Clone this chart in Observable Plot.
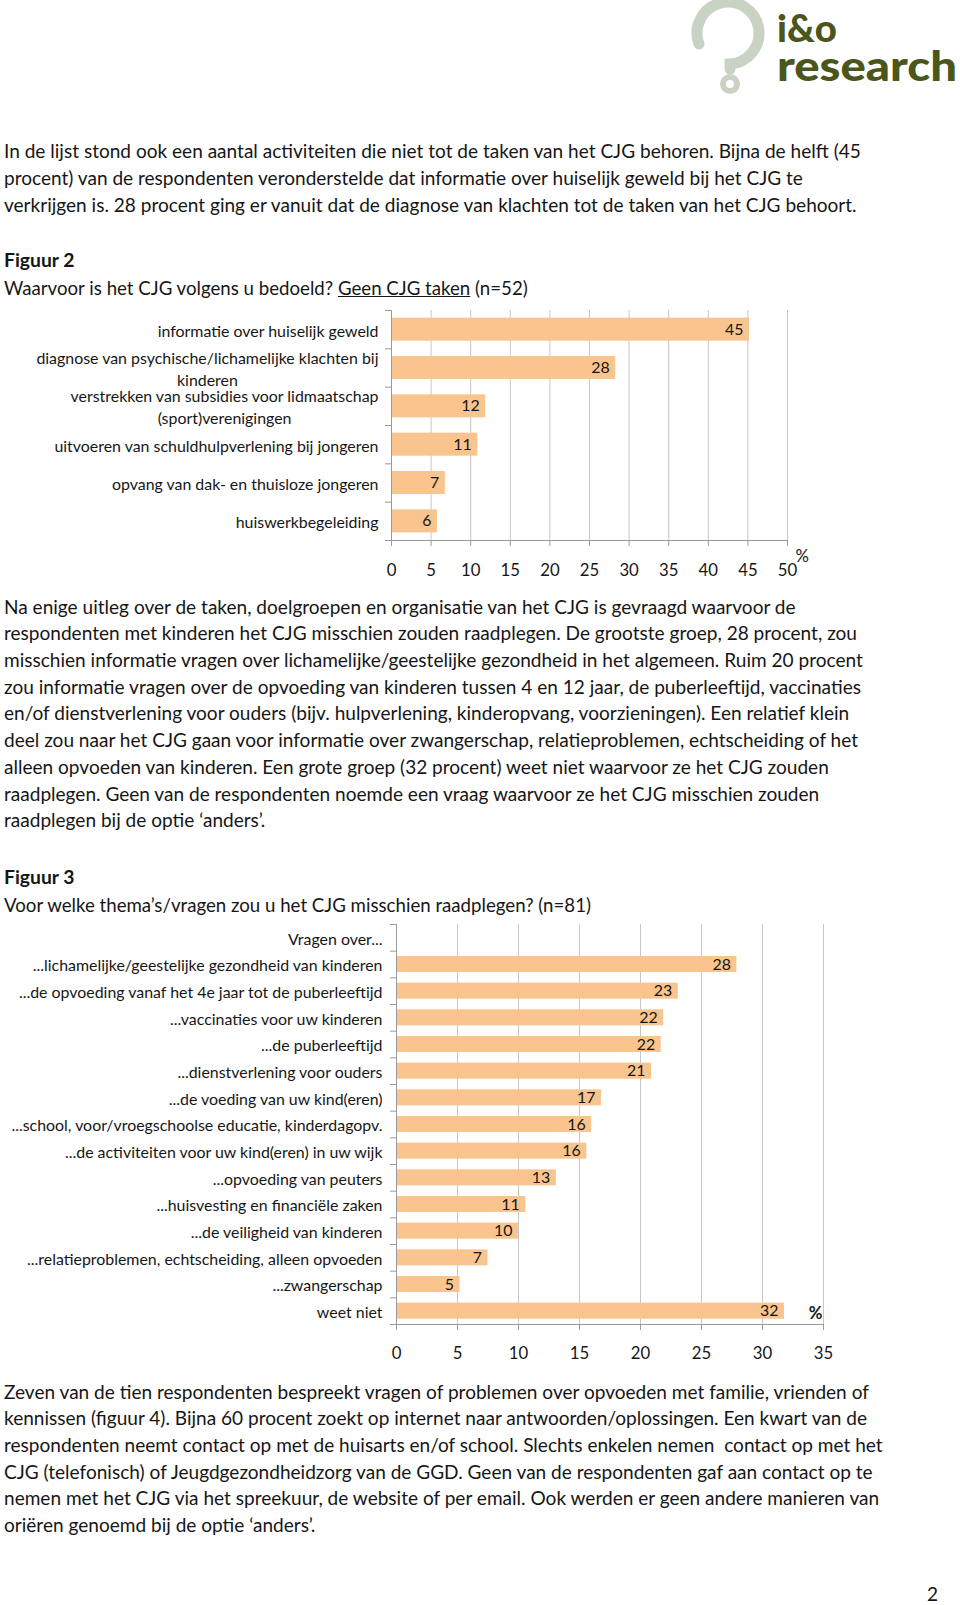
<!DOCTYPE html>
<html><head><meta charset="utf-8">
<script src="https://cdn.jsdelivr.net/npm/d3@7"></script>
<script src="https://cdn.jsdelivr.net/npm/@observablehq/plot@0.6"></script>
<style>
html,body{margin:0;padding:0;background:#fff;}
#page{position:relative;width:960px;height:1605px;overflow:hidden;background:#fff;color:#161616;}
.para{position:absolute;left:4px;white-space:pre;line-height:26.7px;margin:0;}
.abs{position:absolute;white-space:nowrap;line-height:30px;margin:0;}
.chart{position:absolute;left:0;}
</style></head><body><div id="page"></div>
<script>
// ---------- data ----------
const cats1 = [
  "informatie over huiselijk geweld",
  "diagnose van psychische/lichamelijke klachten bij\nkinderen",
  "verstrekken van subsidies voor lidmaatschap\n(sport)verenigingen",
  "uitvoeren van schuldhulpverlening bij jongeren",
  "opvang van dak- en thuisloze jongeren",
  "huiswerkbegeleiding"
];
const values1 = [45.2, 28.3, 11.9, 10.9, 6.8, 5.8];
const labels1 = ["45", "28", "12", "11", "7", "6"];
const ticks1 = [0, 5, 10, 15, 20, 25, 30, 35, 40, 45, 50];

const cats2 = [
  "Vragen over...",
  "...lichamelijke/geestelijke gezondheid van kinderen",
  "...de opvoeding vanaf het 4e jaar tot de puberleeftijd",
  "...vaccinaties voor uw kinderen",
  "...de puberleeftijd",
  "...dienstverlening voor ouders",
  "...de voeding van uw kind(eren)",
  "...school, voor/vroegschoolse educatie, kinderdagopv.",
  "...de activiteiten voor uw kind(eren) in uw wijk",
  "...opvoeding van peuters",
  "...huisvesting en financiële zaken",
  "...de veiligheid van kinderen",
  "...relatieproblemen, echtscheiding, alleen opvoeden",
  "...zwangerschap",
  "weet niet"
];
const values2 = [null, 27.9, 23.1, 21.9, 21.7, 20.9, 16.8, 16.0, 15.6, 13.1, 10.6, 10.0, 7.5, 5.2, 31.8];
const labels2 = ["", "28", "23", "22", "22", "21", "17", "16", "16", "13", "11", "10", "7", "5", "32"];
const ticks2 = [0, 5, 10, 15, 20, 25, 30, 35];

const para1 = [
  "In de lijst stond ook een aantal activiteiten die niet tot de taken van het CJG behoren. Bijna de helft (45",
  "procent) van de respondenten veronderstelde dat informatie over huiselijk geweld bij het CJG te",
  "verkrijgen is. 28 procent ging er vanuit dat de diagnose van klachten tot de taken van het CJG behoort."
];
const para2 = [
  "Na enige uitleg over de taken, doelgroepen en organisatie van het CJG is gevraagd waarvoor de",
  "respondenten met kinderen het CJG misschien zouden raadplegen. De grootste groep, 28 procent, zou",
  "misschien informatie vragen over lichamelijke/geestelijke gezondheid in het algemeen. Ruim 20 procent",
  "zou informatie vragen over de opvoeding van kinderen tussen 4 en 12 jaar, de puberleeftijd, vaccinaties",
  "en/of dienstverlening voor ouders (bijv. hulpverlening, kinderopvang, voorzieningen). Een relatief klein",
  "deel zou naar het CJG gaan voor informatie over zwangerschap, relatieproblemen, echtscheiding of het",
  "alleen opvoeden van kinderen. Een grote groep (32 procent) weet niet waarvoor ze het CJG zouden",
  "raadplegen. Geen van de respondenten noemde een vraag waarvoor ze het CJG misschien zouden",
  "raadplegen bij de optie ‘anders’."
];
const para3 = [
  "Zeven van de tien respondenten bespreekt vragen of problemen over opvoeden met familie, vrienden of",
  "kennissen (figuur 4). Bijna 60 procent zoekt op internet naar antwoorden/oplossingen. Een kwart van de",
  "respondenten neemt contact op met de huisarts en/of school. Slechts enkelen nemen  contact op met het",
  "CJG (telefonisch) of Jeugdgezondheidzorg van de GGD. Geen van de respondenten gaf aan contact op te",
  "nemen met het CJG via het spreekuur, de website of per email. Ook werden er geen andere manieren van",
  "oriëren genoemd bij de optie ‘anders’."
];
const fig2Title = "Figuur 2";
const fig2SubA = "Waarvoor is het CJG volgens u bedoeld? ";
const fig2SubU = "Geen CJG taken";
const fig2SubB = " (n=52)";
const fig3Title = "Figuur 3";
const fig3Sub = "Voor welke thema’s/vragen zou u het CJG misschien raadplegen? (n=81)";

// ---------- fonts / sizing ----------
const BODY = "Lato, 'Open Sans', sans-serif";
const CHART = "Lato, 'Noto Sans', sans-serif";
const cv = document.createElement("canvas").getContext("2d");
function fit(text, weight, family, target) {
  cv.font = `${weight} 100px ${family}`;
  return 100 * target / cv.measureText(text).width;
}
const bodySize = fit(para1[0], 400, BODY, 858);
const subSize = (fit(fig2SubA + fig2SubU + fig2SubB, 400, CHART, 519) + fit(fig3Sub, 400, CHART, 595)) / 2;
const headSize = fit(fig2Title, 700, BODY, 71);
const labSize = (fit(cats1[0], 400, CHART, 218) + fit(cats2[1], 400, CHART, 356)) / 2;

const page = document.getElementById("page");

// ---------- logo ----------
page.insertAdjacentHTML("beforeend", `
<svg class="abs" style="left:0;top:0" width="960" height="100">
  <path d="M699 44 A31 31 0 1 1 730 64 L730 69" fill="none" stroke="#c9d3c4" stroke-width="11" stroke-linecap="round"/>
  <circle cx="730" cy="84" r="7" fill="none" stroke="#c9d3c4" stroke-width="6"/>
  <text x="777" y="42" font-family="Lato, DejaVu Sans, sans-serif" font-weight="900" font-size="38" fill="#4a561c" textLength="60" lengthAdjust="spacingAndGlyphs">i&amp;o</text>
  <text x="777" y="81" font-family="Lato, DejaVu Sans, sans-serif" font-weight="900" font-size="41" fill="#4a561c" textLength="180" lengthAdjust="spacingAndGlyphs">research</text>
</svg>`);

// ---------- text ----------
function addPara(lines, firstCenter) {
  const d = document.createElement("div");
  d.className = "para";
  d.style.top = (firstCenter - 13.35) + "px";
  d.style.fontFamily = BODY;
  d.style.fontSize = bodySize + "px";
  d.textContent = lines.join("\n");
  page.appendChild(d);
}
function addLine(html, center, left, family, size, weight) {
  const d = document.createElement("div");
  d.className = "abs";
  d.style.top = (center - 15) + "px";
  d.style.left = left + "px";
  d.style.fontFamily = family;
  d.style.fontSize = size + "px";
  d.style.fontWeight = weight || 400;
  d.innerHTML = html;
  page.appendChild(d);
}
addPara(para1, 151.5);
addLine(fig2Title, 260, 4, BODY, headSize, 700);
addLine(`${fig2SubA}<u>${fig2SubU}</u>${fig2SubB}`, 288, 4, CHART, subSize, 400);
addPara(para2, 607);
addLine(fig3Title, 877, 4, BODY, headSize, 700);
addLine(fig3Sub, 905, 4, CHART, subSize, 400);
addPara(para3, 1392);
addLine("2", 1594, 927, BODY, bodySize, 400);

// ---------- charts ----------
const BAR = "#f9c48e";
const GRID = "#c6c6c6";
const AXIS = "#9a9a9a";
const PAD = 0.2;

function barChart({cats, values, labels, ticks, top, width, height, marginLeft, marginRight, marginTop, marginBottom, gap, tickPadding, pct}) {
  const n = cats.length;
  const rows = cats.map((c, i) => ({cat: c, i, v: values[i], lab: labels[i]}));
  const bars = rows.filter(d => d.v != null);
  const xmax = ticks[ticks.length - 1];
  const svg = Plot.plot({
    width, height, marginLeft, marginRight, marginTop, marginBottom,
    style: {fontFamily: CHART, fontSize: labSize + "px", color: "#161616", background: "transparent", overflow: "visible"},
    x: {domain: [0, xmax], label: null},
    y: {domain: [0, n], reverse: true, label: null},
    marks: [
      Plot.gridX(ticks.filter(t => t > 0), {stroke: GRID, strokeOpacity: 1}),
      Plot.rectX(bars, {x1: d => 0, x2: "v", y1: d => d.i + PAD, y2: d => d.i + 1 - PAD, fill: BAR}),
      Plot.ruleX([0], {y1: d => 0, y2: d => n, stroke: AXIS}),
      Plot.ruleY([n], {stroke: AXIS}),
      Plot.axisY(d3.range(0, n + 1), {tickSize: 6, tickFormat: () => "", stroke: AXIS}),
      Plot.axisX(ticks, {tickSize: 6, tickPadding, stroke: AXIS, fontSize: labSize * 1.05}),
      Plot.text(rows, {x: d => 0, y: d => d.i + 0.5, text: "cat", textAnchor: "end", dx: -gap, lineHeight: 1.35, fontSize: labSize}),
      Plot.text(bars, {x: "v", y: d => d.i + 0.5, text: "lab", textAnchor: "end", dx: -6, fontSize: labSize}),
      Plot.text(["%"], {text: d => d, ...pct})
    ]
  });
  svg.classList.add("chart");
  svg.style.top = top + "px";
  page.appendChild(svg);
  // centre the continuation lines of wrapped labels under their first line
  svg.querySelectorAll("text").forEach(t => {
    const spans = t.querySelectorAll("tspan");
    if (spans.length < 2) return;
    const ws = [...spans].map(s => s.getComputedTextLength());
    const W = Math.max(...ws);
    spans.forEach((s, k) => s.setAttribute("x", -(W - ws[k]) / 2));
  });
}

barChart({
  cats: cats1, values: values1, labels: labels1, ticks: ticks1,
  top: 295, width: 830, height: 285, marginLeft: 391, marginRight: 43, marginTop: 15, marginBottom: 40, gap: 13, tickPadding: 18,
  pct: {frameAnchor: "bottom-right", dx: 8, dy: 21, textAnchor: "start", fontSize: labSize * 1.05}
});
barChart({
  cats: cats2, values: values2, labels: labels2, ticks: ticks2,
  top: 914, width: 850, height: 450, marginLeft: 396, marginRight: 27, marginTop: 10, marginBottom: 40, gap: 14, tickPadding: 17,
  pct: {frameAnchor: "bottom-right", dx: -8, dy: -6, textAnchor: "middle", fontWeight: "bold", fontSize: labSize * 1.05}
});
</script></body></html>
